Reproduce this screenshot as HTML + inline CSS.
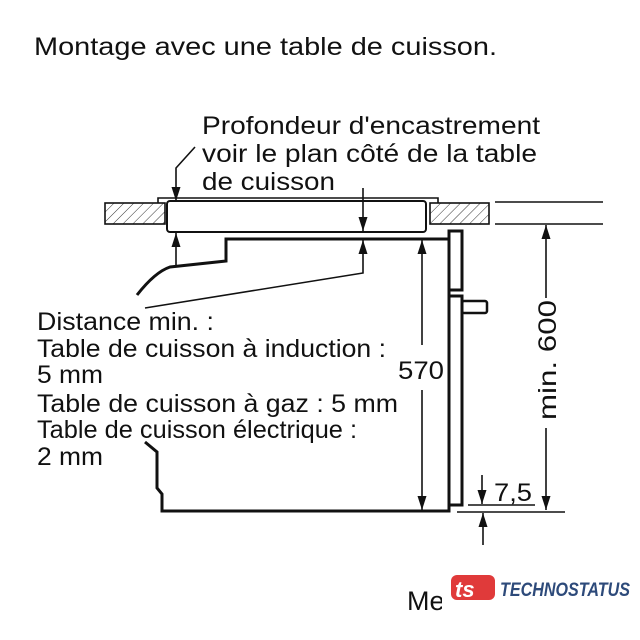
<!DOCTYPE html>
<html><head><meta charset="utf-8"><style>
html,body{margin:0;padding:0;background:#fff;}
svg{display:block;}
text{font-family:"Liberation Sans",sans-serif;fill:#111;}
</style></head><body>
<svg width="640" height="640" viewBox="0 0 640 640" xmlns="http://www.w3.org/2000/svg">
<defs>
<pattern id="h" width="7" height="7" patternUnits="userSpaceOnUse" patternTransform="rotate(45)">
<line x1="0" y1="0" x2="0" y2="7" stroke="#333" stroke-width="1"/>
</pattern>
<marker id="a" viewBox="0 0 14 10" refX="14" refY="5" markerWidth="14" markerHeight="10" orient="auto-start-reverse" markerUnits="userSpaceOnUse">
<path d="M0,0.5 L14,5 L0,9.5 z" fill="#111"/>
</marker>
</defs>
<g font-size="25">
<text x="34" y="55" textLength="463" lengthAdjust="spacingAndGlyphs">Montage avec une table de cuisson.</text>
<text x="202" y="134" textLength="338" lengthAdjust="spacingAndGlyphs">Profondeur d'encastrement</text>
<text x="202" y="162" textLength="335" lengthAdjust="spacingAndGlyphs">voir le plan côté de la table</text>
<text x="202" y="190" textLength="133" lengthAdjust="spacingAndGlyphs">de cuisson</text>
</g>

<g stroke="#111" fill="none" stroke-width="1.6">
<rect x="105" y="203" width="60" height="21" fill="url(#h)"/>
<rect x="430" y="203" width="59" height="21" fill="url(#h)"/>
<line x1="495" y1="202" x2="603" y2="202"/>
<line x1="495" y1="224" x2="603" y2="224"/>
<path d="M158,203 L158,198 L438,198 L438,203"/>
<rect x="167" y="201" width="259" height="31" rx="3" fill="#fff" stroke-width="2"/>
<polyline points="195,147 176,168 176,201" marker-end="url(#a)"/>
<line x1="176" y1="265" x2="176" y2="233" marker-end="url(#a)"/>
<line x1="363" y1="188" x2="363" y2="231" marker-end="url(#a)"/>
<polyline points="145,308 363,273 363,240" marker-end="url(#a)"/>
<path d="M448,239 L226,239 L226,261 L170,267 Q155,272 137,295" stroke-width="3"/>
<path d="M449,505 L449,231 L462,231 L462,290 L449,290" stroke-width="3"/>
<path d="M449,296 L462,296 L462,505 L449,505" stroke-width="3"/>
<rect x="462" y="301" width="25" height="12" rx="2" stroke-width="2.5"/>
<path d="M145,442 L157,452 L157,488 L162,494 L162,511 L449,511 L449,505" stroke-width="3"/>
<line x1="422" y1="345" x2="422" y2="240" marker-end="url(#a)"/>
<line x1="422" y1="390" x2="422" y2="510" marker-end="url(#a)"/>
<line x1="546" y1="298" x2="546" y2="225" marker-end="url(#a)"/>
<line x1="546" y1="428" x2="546" y2="510" marker-end="url(#a)"/>
<line x1="468" y1="505" x2="535" y2="505"/>
<line x1="457" y1="512" x2="565" y2="512"/>
<line x1="482" y1="475" x2="482" y2="504" marker-end="url(#a)"/>
<line x1="483" y1="545" x2="483" y2="513" marker-end="url(#a)"/>
</g>
<text x="398" y="379" font-size="25" textLength="46" lengthAdjust="spacingAndGlyphs">570</text>
<text x="494" y="501" font-size="25" textLength="38" lengthAdjust="spacingAndGlyphs">7,5</text>
<text transform="translate(556,420) rotate(-90)" font-size="25" textLength="120" lengthAdjust="spacingAndGlyphs">min. 600</text>

<g font-size="25">
<text x="37" y="330" textLength="177" lengthAdjust="spacingAndGlyphs">Distance min. :</text>
<text x="37" y="357" textLength="349" lengthAdjust="spacingAndGlyphs">Table de cuisson à induction :</text>
<text x="37" y="383" textLength="66" lengthAdjust="spacingAndGlyphs">5 mm</text>
<text x="37" y="412" textLength="361" lengthAdjust="spacingAndGlyphs">Table de cuisson à gaz : 5 mm</text>
<text x="37" y="438" textLength="320" lengthAdjust="spacingAndGlyphs">Table de cuisson électrique :</text>
<text x="37" y="465" textLength="66" lengthAdjust="spacingAndGlyphs">2 mm</text>
</g>

<text x="407" y="610" font-size="27">Me</text>
<rect x="442" y="568" width="198" height="50" fill="#fff"/>
<g>
<rect x="451" y="575" width="44" height="25" rx="6" fill="#e03a3a"/>
<text x="455" y="597" font-size="22" font-weight="bold" style="fill:#fff;font-style:italic">ts</text>
</g>
<text x="500" y="596" font-size="19" font-weight="bold" font-style="italic" style="fill:#2d4a7a" textLength="130" lengthAdjust="spacingAndGlyphs">TECHNOSTATUS</text>
</svg>
</body></html>
